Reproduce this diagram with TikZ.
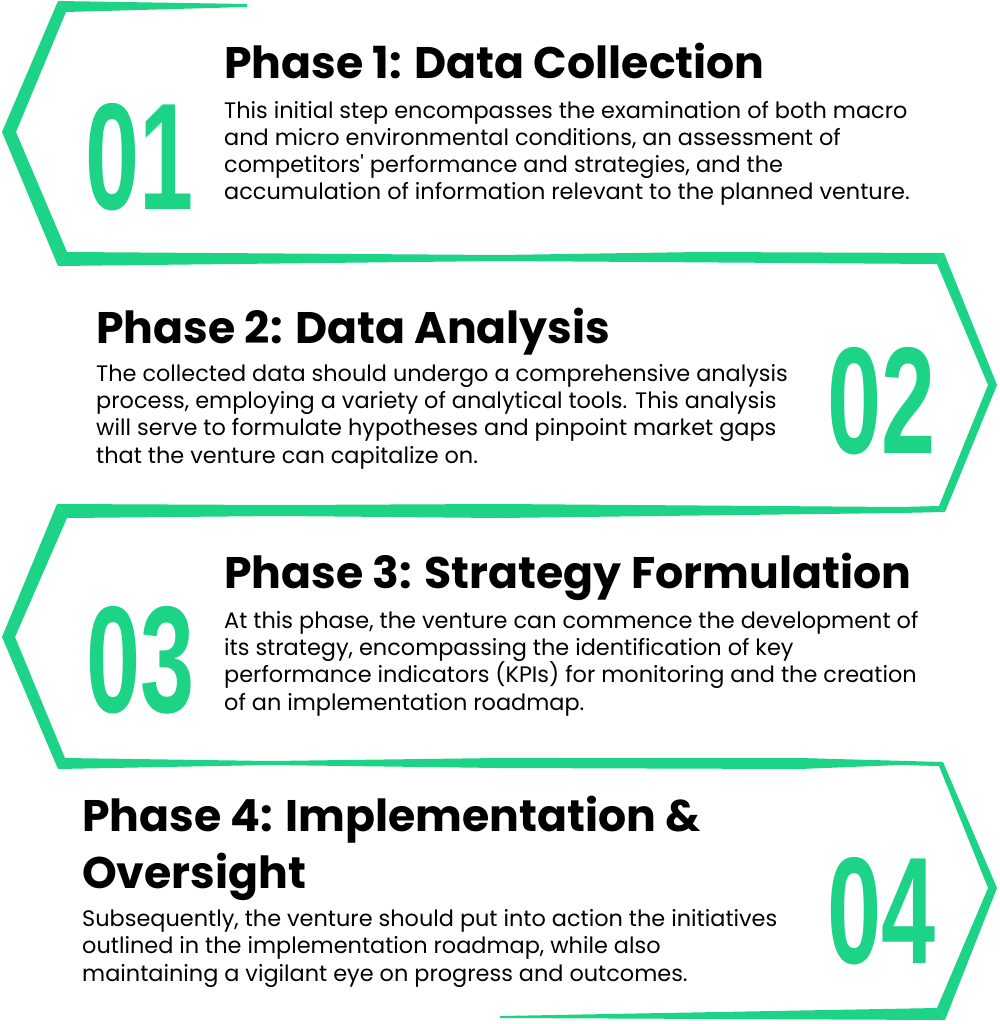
\documentclass[tikz,border=0pt]{standalone}
\usepackage{fontspec}
\setmainfont{Poppins}
\newfontfamily\numfont{Liberation Sans}[FakeStretch=0.64]
\definecolor{phasegreen}{HTML}{1CD386}
\tikzset{
    brush/.style={
        fill=phasegreen,
        draw=none
    },
    heading/.style={
        anchor=base west,
        inner sep=0pt,
        align=left,
        font=\fontsize{44.2}{57}\selectfont\bfseries
    },
    body/.style={
        anchor=base west,
        inner sep=0pt,
        align=left,
        font=\fontsize{22.4}{27.2}\selectfont
    },
    bignum/.style={
        inner sep=0pt,
        text=phasegreen,
        font=\fontsize{152}{152}\selectfont\numfont\bfseries
    }
}

\begin{document}
\begin{tikzpicture}[x=1pt,y=-1pt]
\useasboundingbox (0,0) rectangle (999,1024);
% zigzag frame
\fill[brush] (58,1) -- (247,4) -- (247,7) -- (66,12) -- cycle;
\fill[brush] (58,1) -- (2,132) -- (58,266) -- (67,252) -- (16,132) -- (66,12) -- cycle;
\fill[brush] (58,266) -- (500,261) -- (937,264) -- (944,253) -- (700,252) -- (500,255) -- (67,252) -- cycle;
\fill[brush] (944,253) -- (997,385) -- (945,512) -- (939,506) -- (988,385) -- (937,264) -- cycle;
\fill[brush] (57,504) -- (280,505) -- (499,504) -- (900,507) -- (939,506) -- (945,512) -- (900,513) -- (499,518) -- (280,516) -- (67,518) -- cycle;
\fill[brush] (57,504) -- (2,637) -- (58,769) -- (65,758) -- (15,637) -- (67,518) -- cycle;
\fill[brush] (65,758) -- (270,761) -- (499,758) -- (800,758) -- (943,762) -- (939,766) -- (900,765) -- (800,769) -- (499,768) -- (270,765) -- (58,769) -- cycle;
\fill[brush] (943,762) -- (997,888) -- (945,1020) -- (937,1008) -- (988,888) -- (939,766) -- cycle;
\fill[brush] (945,1020) -- (500,1018) -- (500,1016) -- (937,1008) -- cycle;

% phase 1
\node[bignum,anchor=base west] (num1) at (85,210) {01};
\node[heading] (head1) at (224,79) {Phase 1: Data Collection};
\node[body] (text1) at (224,200) {This initial step encompasses the examination of both macro\\
  and micro environmental conditions, an assessment of\\
  competitors\textquotesingle{} performance and strategies, and the\\
  accumulation of information relevant to the planned venture.};

% phase 2
\node[bignum,anchor=base east] (num2) at (936,453) {02};
\node[heading] (head2) at (96,343) {Phase 2: Data Analysis};
\node[body] (text2) at (96,463) {The collected data should undergo a comprehensive analysis\\
  process, employing a variety of analytical tools. This analysis\\
  will serve to formulate hypotheses and pinpoint market gaps\\
  that the venture can capitalize on.};

% phase 3
\node[bignum,anchor=base west] (num3) at (86,712) {03};
\node[heading] (head3) at (224,588) {Phase 3: Strategy Formulation};
\node[body] (text3) at (224,710) {At this phase, the venture can commence the development of\\
  its strategy, encompassing the identification of key\\
  performance indicators (KPIs) for monitoring and the creation\\
  of an implementation roadmap.};

% phase 4
\node[bignum,anchor=base east] (num4) at (936,963) {04};
\node[heading] (head4) at (82,888) {Phase 4: Implementation \&\\
  Oversight};
\node[body] (text4) at (82,981) {Subsequently, the venture should put into action the initiatives\\
  outlined in the implementation roadmap, while also\\
  maintaining a vigilant eye on progress and outcomes.};
\end{tikzpicture}
\end{document}
